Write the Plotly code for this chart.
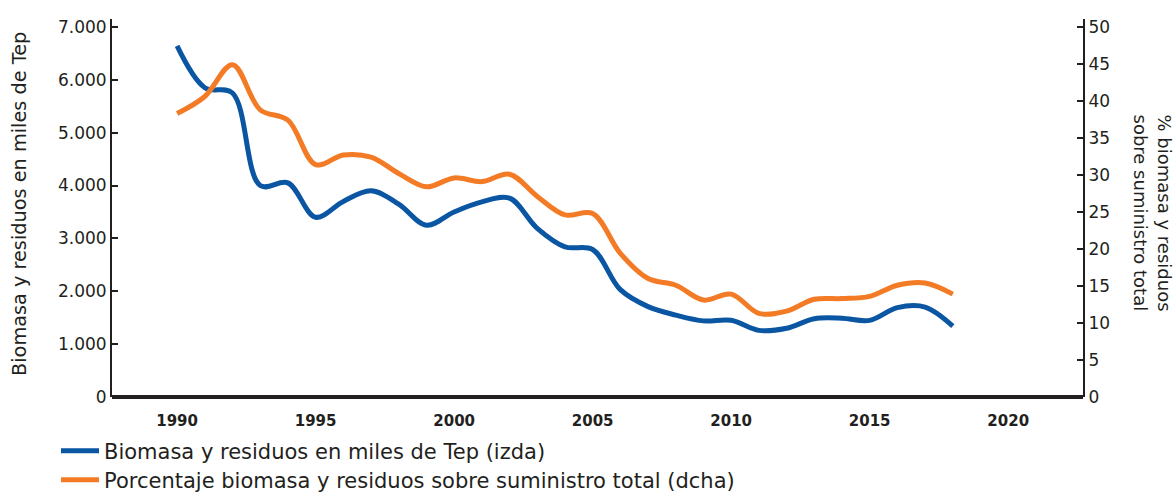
import plotly.graph_objects as go

years = list(range(1990, 2019))
biomasa = [6640, 5850, 5750, 4000, 4050, 3400, 3700, 3900, 3650, 3250,
           3500, 3690, 3760, 3190, 2840, 2790, 2030, 1710, 1550, 1440,
           1450, 1260, 1300, 1480, 1490, 1450, 1690, 1700, 1340]
porcentaje = [38.3, 40.6, 44.9, 38.8, 37.4, 31.4, 32.7, 32.4, 30.2, 28.4,
              29.6, 29.1, 30.1, 27.1, 24.6, 24.8, 19.4, 16.0, 15.1, 13.1,
              13.9, 11.3, 11.6, 13.2, 13.3, 13.6, 15.1, 15.4, 13.9]

left_ticks = [0, 1000, 2000, 3000, 4000, 5000, 6000, 7000]
left_labels = ["0", "1.000", "2.000", "3.000", "4.000", "5.000", "6.000", "7.000"]
right_ticks = [0, 5, 10, 15, 20, 25, 30, 35, 40, 45, 50]
x_ticks = [1990, 1995, 2000, 2005, 2010, 2015, 2020]

name_blue = "Biomasa y residuos en miles de Tep (izda)"
name_orange = "Porcentaje biomasa y residuos sobre suministro total (dcha)"
left_title = "Biomasa y residuos en miles de Tep"
right_title = "% biomasa y residuos<br>sobre suministro total"

BLUE = "#0A56A3"
ORANGE = "#F47B25"
INK = "#231F20"
FONT = "DejaVu Sans"

W, H = 1176, 493
ML, MR, MT, MB = 112, 93, 19, 96
PW, PH = W - ML - MR, H - MT - MB
BOTTOM = H - MB

fig = go.Figure()
fig.add_trace(go.Scatter(
    x=years, y=biomasa, name=name_blue, mode="lines", showlegend=True,
    line=dict(color=BLUE, width=5, shape="spline", smoothing=1.0),
    yaxis="y", legend="legend"))
fig.add_trace(go.Scatter(
    x=years, y=porcentaje, name=name_orange, mode="lines", showlegend=True,
    line=dict(color=ORANGE, width=5, shape="spline", smoothing=1.0),
    yaxis="y2", legend="legend2"))

leg_common = dict(xref="paper", yref="paper", x=(56 - ML) / PW,
                  xanchor="left", yanchor="middle", font=dict(size=21),
                  bgcolor="rgba(0,0,0,0)", itemwidth=38)

fig.update_layout(
    width=W, height=H, showlegend=True,
    margin=dict(l=ML, r=MR, t=MT, b=MB, autoexpand=False),
    paper_bgcolor="white", plot_bgcolor="white",
    font=dict(family=FONT, color=INK, size=15),
    xaxis=dict(range=[1987.65, 2022.7], tickvals=x_ticks,
               showgrid=False, zeroline=False,
               showline=False, ticks="", ticklabelstandoff=13,
               tickfont=dict(family=FONT, size=15, color=INK, weight="bold")),
    yaxis=dict(range=[0, 7150], tickvals=left_ticks, ticktext=left_labels,
               showgrid=False, zeroline=True, zerolinecolor=INK, zerolinewidth=4,
               showline=True, linecolor=INK, linewidth=2,
               ticks="inside", ticklen=6, tickcolor=INK, tickwidth=1.5,
               tickfont=dict(size=17)),
    yaxis2=dict(range=[0, 51.07], tickvals=right_ticks, overlaying="y", side="right",
                showgrid=False, zeroline=False,
                showline=True, linecolor=INK, linewidth=2,
                ticks="inside", ticklen=6, tickcolor=INK, tickwidth=1.5,
                tickfont=dict(size=17)),
    legend=dict(leg_common, y=(BOTTOM - 451) / PH),
    legend2=dict(leg_common, y=(BOTTOM - 480) / PH),
    annotations=[
        dict(text=left_title, textangle=-90, xref="paper", yref="paper",
             x=(19 - ML) / PW, y=(BOTTOM - 204) / PH,
             xanchor="center", yanchor="middle",
             showarrow=False, font=dict(size=19.3, color=INK)),
        dict(text=right_title, textangle=90, xref="paper", yref="paper",
             x=(1153 - ML) / PW, y=(BOTTOM - 112) / PH,
             xanchor="center", yanchor="top", align="left",
             showarrow=False, font=dict(size=18, color=INK)),
    ],
)

fig.write_html("out.html", config={"displayModeBar": False},
               post_script="document.body.style.margin='0px';")
